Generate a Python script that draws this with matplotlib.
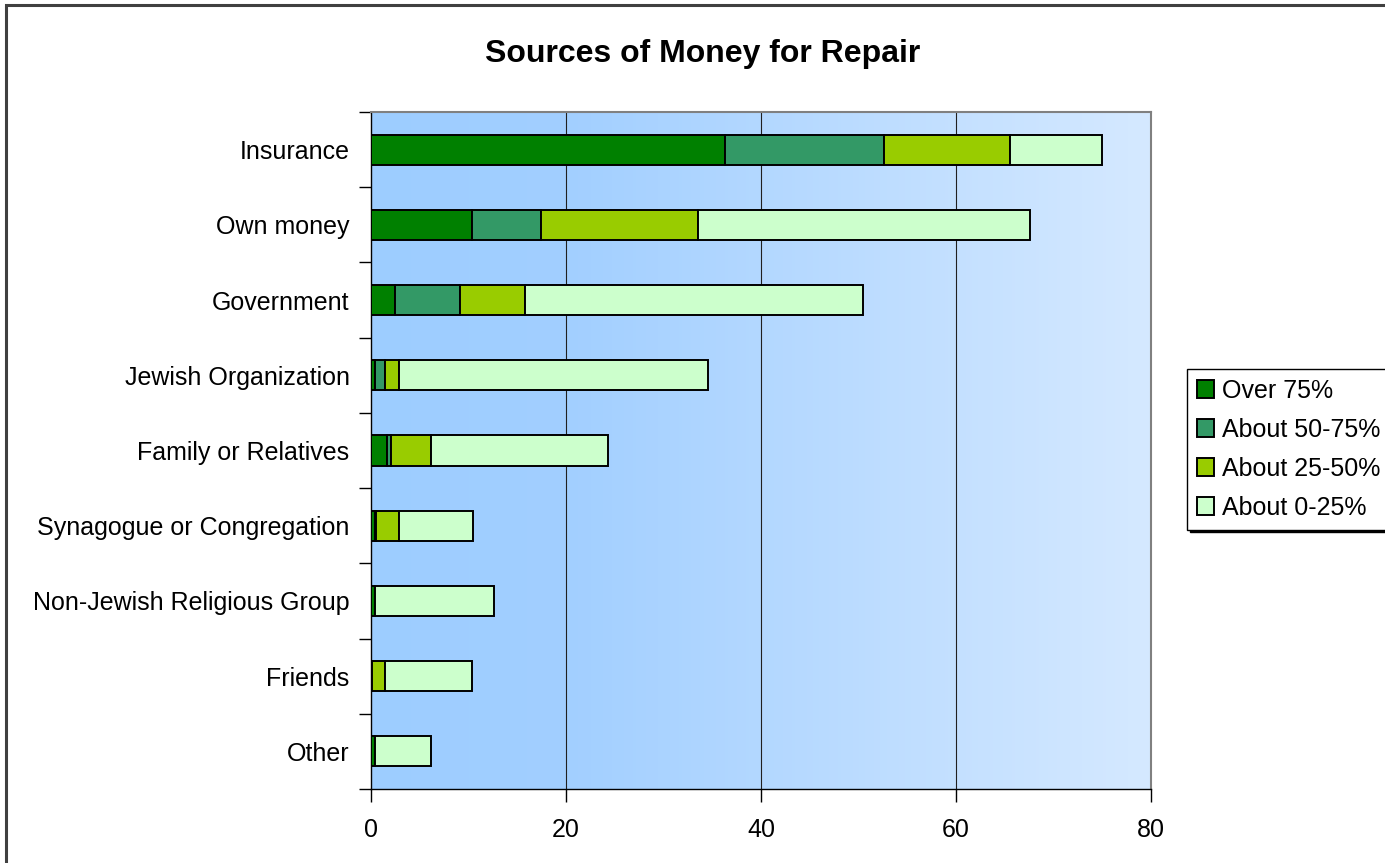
import matplotlib
matplotlib.use("Agg")
import matplotlib.pyplot as plt
import numpy as np
from matplotlib.colors import LinearSegmentedColormap
from matplotlib.patches import Rectangle

plt.rcParams['font.family'] = ['Liberation Sans', 'DejaVu Sans']

# Data (percent of respondents)
categories = ["Insurance", "Own money", "Government", "Jewish Organization",
              "Family or Relatives", "Synagogue or Congregation",
              "Non-Jewish Religious Group", "Friends", "Other"]
over_75 = [36.3, 10.4, 2.5, 0.4, 1.6, 0.4, 0.4, 0.1, 0.4]
about_50_75 = [16.3, 7.0, 6.6, 1.0, 0.4, 0.1, 0.0, 0.0, 0.0]
about_25_50 = [12.9, 16.1, 6.7, 1.5, 4.1, 2.4, 0.0, 1.3, 0.0]
about_0_25 = [9.5, 34.1, 34.7, 31.7, 18.2, 7.6, 12.2, 9.0, 5.8]

series = [over_75, about_50_75, about_25_50, about_0_25]
series_names = ["Over 75%", "About 50-75%", "About 25-50%", "About 0-25%"]
colors = ["#008000", "#339966", "#99CC00", "#CCFFCC"]
x_ticks = [0, 20, 40, 60, 80]

fig = plt.figure(figsize=(13.85, 8.63), dpi=100)
ax = fig.add_axes([0.2679, 0.0857, 0.5632, 0.7845])

# gradient background of the plot area
grad_cmap = LinearSegmentedColormap.from_list(
    "bg", [(0.0, "#9DCDFF"), (0.25, "#A2CFFF"), (1.0, "#D5E9FF")])
ax.imshow(np.linspace(0, 1, 256).reshape(1, -1), cmap=grad_cmap, aspect='auto',
          extent=[0, 1, 0, 1], transform=ax.transAxes, zorder=0)

y = np.arange(len(categories))
left = np.zeros(len(categories))
for vals, name, col in zip(series, series_names, colors):
    ax.barh(y, vals, left=left, height=0.4, color=col, edgecolor='black',
            linewidth=1.4, label=name, zorder=3)
    left += np.array(vals)

ax.set_xlim(0, 80)
ax.set_ylim(len(categories) - 0.5, -0.5)
ax.set_xticks(x_ticks)
ax.set_yticks(y)
ax.set_yticklabels(categories)
ax.set_yticks(np.arange(len(categories) + 1) - 0.5, minor=True)
ax.tick_params(axis='y', which='major', length=0, pad=15.5, labelsize=18)
ax.tick_params(axis='y', which='minor', length=9, width=1, direction='out')
ax.tick_params(axis='x', length=9, width=1, direction='out', pad=12, labelsize=18)

for gx in x_ticks[1:-1]:
    ax.axvline(gx, color='#202020', linewidth=0.8, zorder=1)

for side in ['left', 'bottom']:
    ax.spines[side].set_color('black')
    ax.spines[side].set_linewidth(1.0)
for side in ['top', 'right']:
    ax.spines[side].set_color('#808080')
    ax.spines[side].set_linewidth(1.5)

fig.text(0.507, 0.937, "Sources of Money for Repair", ha='center', va='center',
         fontsize=23, fontweight='bold')

leg = fig.legend(loc='upper left', bbox_to_anchor=(0.857, 0.573), fontsize=18,
                 frameon=True, fancybox=False, edgecolor='black',
                 handlelength=0.7, handleheight=0.7, handletextpad=0.3,
                 labelspacing=0.6, borderpad=0.4, borderaxespad=0,
                 shadow={'facecolor': 'black', 'edgecolor': 'black', 'alpha': 1})
leg.get_frame().set_linewidth(1.0)

# outer chart frame
fig.patches.append(Rectangle((6 / 1385, -0.05), 1.1, 1 - 5 / 863 + 0.05,
                             transform=fig.transFigure, fill=False,
                             edgecolor='#404040', linewidth=2.2))

fig.savefig("out.png", dpi=100, facecolor='white')
